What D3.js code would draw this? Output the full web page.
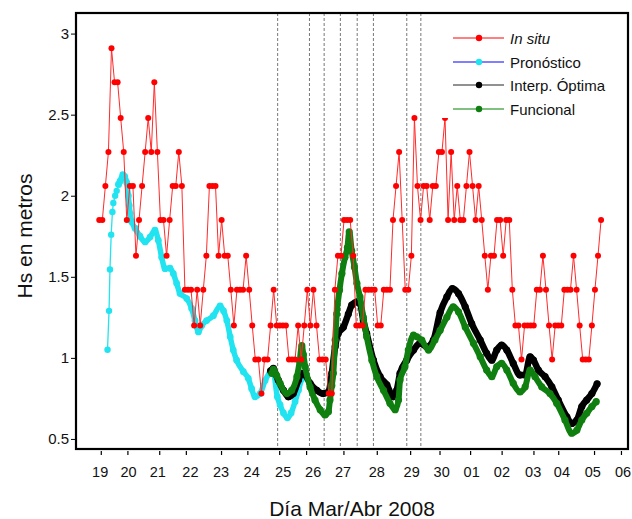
<!DOCTYPE html>
<html><head><meta charset="utf-8">
<script src="https://cdn.jsdelivr.net/npm/d3@7"></script>
<style>
body{margin:0;background:#fff}
svg{display:block}
text{font-family:"Liberation Sans",Arial,Helvetica,sans-serif}
</style>
</head><body>
<svg id="chart" width="632" height="519"></svg>
<script>
// ---------- DATA ----------
// In situ: Hs every 0.1 axis-day starting at 18.95
const inSituStart = 18.95, inSituStep = 0.1;
const inSituHs = [
 1.85,1.85,2.06,2.27,2.91,2.7,2.7,2.48,2.27,1.85,
 2.06,2.06,1.63,1.85,2.06,2.27,2.48,2.27,2.7,2.27,
 1.85,1.85,1.63,1.85,2.06,2.06,2.27,2.06,1.42,1.42,
 1.42,1.2,1.42,1.2,1.42,1.63,2.06,2.06,2.06,1.63,
 1.85,1.63,1.63,1.42,1.2,1.42,1.42,1.42,1.63,1.42,
 1.2,0.99,0.99,0.78,0.99,0.99,1.2,1.42,1.2,1.2,
 1.2,1.2,0.99,0.99,0.99,1.2,0.99,1.2,1.42,1.2,
 1.42,1.2,0.99,0.99,0.99,0.78,0.78,1.42,1.63,1.63,
 1.85,1.85,1.85,1.63,1.2,1.2,1.2,1.42,1.42,1.42,
 1.42,1.2,1.2,1.42,1.42,1.42,1.85,2.06,2.27,1.85,
 1.42,1.42,1.63,2.48,2.06,1.85,2.06,2.06,1.85,2.06,
 2.06,2.27,2.27,2.48,1.85,2.27,1.85,2.06,1.85,1.85,
 2.06,2.27,2.06,1.85,2.06,1.85,1.63,1.42,1.63,1.63,
 1.85,1.85,1.63,1.85,1.85,1.42,1.2,1.2,0.99,1.2,
 1.2,1.2,1.2,1.42,1.42,1.63,1.42,1.2,0.99,1.2,
 1.2,1.2,1.42,1.42,1.42,1.63,1.42,1.2,0.99,0.99,
 0.99,1.2,1.42,1.63,1.85
];

const pronDay = [19.22,19.27,19.30,19.34,19.38,19.41,19.47,19.52,19.58,19.63,19.72,19.78,19.85,19.90,19.93,19.96,20.01,20.12,20.28,20.45,20.61,20.77,20.88,20.99,21.10,21.26,21.37,21.48,21.59,21.81,21.97,22.08,22.19,22.30,22.46,22.68,22.90,23.01,23.12,23.23,23.33,23.44,23.66,23.82,23.93,24.04,24.21,24.37,24.53,24.63,24.77,24.86,24.97,25.10,25.22,25.35,25.46,25.57,25.64];
const pronHs  = [1.05,1.29,1.545,1.76,1.90,1.955,2.0,2.03,2.07,2.09,2.13,2.12,2.08,2.0,1.94,1.89,1.84,1.80,1.75,1.715,1.745,1.787,1.725,1.62,1.55,1.553,1.52,1.46,1.397,1.366,1.305,1.23,1.16,1.20,1.23,1.26,1.32,1.29,1.23,1.13,1.048,0.986,0.915,0.874,0.81,0.76,0.78,0.86,0.91,0.92,0.76,0.71,0.66,0.63,0.66,0.73,0.80,0.87,0.89];

const interpDay = [24.55,24.64,24.71,24.80,24.97,25.13,25.29,25.46,25.57,25.68,25.84,26.06,26.27,26.44,26.55,26.66,26.76,26.93,27.09,27.20,27.37,27.47,27.58,27.69,27.91,28.13,28.35,28.56,28.67,28.78,29.00,29.22,29.43,29.65,29.87,30.09,30.31,30.49,30.69,30.91,31.12,31.40,31.61,31.78,31.94,32.10,32.27,32.48,32.70,32.87,33.03,33.14,33.30,33.52,33.74,33.95,34.23,34.39,34.56,34.72,34.88,35.05,35.22];
const interpHs  = [0.92,0.935,0.90,0.863,0.80,0.76,0.78,0.863,0.905,0.894,0.843,0.80,0.78,0.79,0.905,1.07,1.15,1.19,1.27,1.325,1.345,1.335,1.23,1.15,0.986,0.884,0.833,0.76,0.80,0.905,0.986,1.048,1.09,1.068,1.11,1.28,1.376,1.428,1.397,1.315,1.212,1.11,1.028,0.986,1.048,1.079,1.048,0.966,0.894,0.894,1.007,0.986,0.925,0.884,0.822,0.74,0.637,0.596,0.617,0.70,0.74,0.78,0.84];

const funcDay = [24.59,24.64,24.75,24.86,25.08,25.24,25.41,25.50,25.57,25.62,25.68,25.84,26.00,26.17,26.33,26.44,26.49,26.55,26.60,26.66,26.71,26.80,26.88,26.98,27.06,27.12,27.20,27.29,27.37,27.47,27.58,27.69,27.86,28.02,28.24,28.45,28.62,28.73,28.78,28.94,29.05,29.22,29.33,29.49,29.71,29.92,30.09,30.31,30.52,30.69,30.91,31.18,31.40,31.61,31.78,31.94,32.10,32.27,32.48,32.70,32.87,33.03,33.19,33.41,33.68,33.90,34.17,34.39,34.56,34.72,34.88,35.05,35.19];
const funcHs  = [0.905,0.93,0.89,0.843,0.78,0.80,0.884,0.98,1.075,1.02,0.945,0.82,0.74,0.68,0.648,0.668,0.74,0.83,0.905,1.11,1.27,1.417,1.52,1.62,1.68,1.777,1.66,1.56,1.46,1.376,1.25,1.13,0.986,0.884,0.80,0.72,0.68,0.74,0.863,0.945,1.048,1.14,1.13,1.11,1.048,1.11,1.17,1.25,1.315,1.284,1.19,1.09,1.007,0.925,0.884,0.945,0.966,0.925,0.843,0.79,0.822,0.925,0.884,0.822,0.78,0.72,0.617,0.535,0.555,0.617,0.658,0.70,0.73];

const dayTicks    = [19.0,19.87,20.91,21.78,22.93,23.79,24.83,25.71,26.93,28.02,29.11,30.07,31.07,32.10,33.14,33.95,35.12,36.00];
const dayLabels   = ["19","20","21","22","23","24","25","26","27","28","29","30","01","02","03","04","05","06"];
const dayLabelPos = [18.98,19.91,20.86,21.93,22.93,23.93,24.96,25.94,26.92,28.02,29.16,30.14,31.12,32.11,33.13,34.07,35.08,36.07];
const eventDays   = [24.78,25.82,26.30,26.83,27.38,27.91,29.00,29.46];
const hsTicks     = [0.5,1,1.5,2,2.5,3];

const seriesNames = ["In situ","Pronóstico","Interp. Óptima","Funcional"];

// ---------- LAYOUT ----------
const W = 632, H = 519;
const plot = {left:76, right:628, top:13, bottom:449};
const svg = d3.select("#chart");
svg.append("rect").attr("width",W).attr("height",H).attr("fill","#fff");

const x = d3.scaleLinear().domain([18.19,36.23]).range([plot.left,plot.right]);
const y = d3.scaleLinear().domain([0.438,3.127]).range([plot.bottom,plot.top]);

svg.append("clipPath").attr("id","clip").append("rect")
  .attr("x",plot.left).attr("y",plot.top).attr("width",plot.right-plot.left).attr("height",plot.bottom-plot.top);

const g = svg.append("g").attr("clip-path","url(#clip)");

// dashed event lines
g.selectAll("line.ev").data(eventDays).join("line")
  .attr("x1",d=>x(d)).attr("x2",d=>x(d)).attr("y1",plot.top).attr("y2",plot.bottom)
  .attr("stroke","#777").attr("stroke-width",1).attr("stroke-dasharray","3,2");

const inSitu = inSituHs.map((v,i)=>({d:inSituStart+i*inSituStep, v}));
const pron = pronDay.map((d,i)=>({d, v:pronHs[i]}));
const interp = interpDay.map((d,i)=>({d, v:interpHs[i]}));
const func = funcDay.map((d,i)=>({d, v:funcHs[i]}));

const line = d3.line().x(p=>x(p.d)).y(p=>y(p.v));
const smooth = d3.line().x(p=>x(p.d)).y(p=>y(p.v)).curve(d3.curveMonotoneX);

function drawSeries(data, color, lineColor, lw, r, gen){
  g.append("path").datum(data).attr("d",gen).attr("fill","none")
   .attr("stroke",lineColor).attr("stroke-width",lw).attr("stroke-linejoin","round").attr("stroke-linecap","round");
  g.append("g").selectAll("circle").data(data).join("circle")
   .attr("cx",p=>x(p.d)).attr("cy",p=>y(p.v)).attr("r",r).attr("fill",color);
}

const cyan = "#22e3f0", green = "#0f7f0f", red = "#ff0000";
drawSeries(pron.slice(0,9), cyan, cyan, 1.3, 3.2, line);
drawSeries(pron.slice(8), cyan, cyan, 5.5, 3.4, smooth);
drawSeries(interp, "#000", "#000", 6.5, 3.6, smooth);
drawSeries(func, green, green, 6, 3.6, smooth);
drawSeries(inSitu, red, "#ff2a2a", 1, 3, line);

// legend background
const leg = svg.append("g");
leg.append("rect").attr("x",441).attr("y",plot.top+1).attr("width",plot.right-442).attr("height",104).attr("fill","#fff");
const legY = [38,62,85,109];
const legLine = [red,"#0000ff","#222","#80c080"];
const legMark = [red,cyan,"#000",green];
const legLW = [1,1,1,2];
seriesNames.forEach((n,i)=>{
  leg.append("line").attr("x1",453).attr("x2",504).attr("y1",legY[i]).attr("y2",legY[i])
    .attr("stroke",legLine[i]).attr("stroke-width",legLW[i]);
  leg.append("circle").attr("cx",479).attr("cy",legY[i]).attr("r",3.2).attr("fill",legMark[i]);
  leg.append("text").attr("x",510).attr("y",legY[i]+5.5).attr("font-size",15).attr("fill","#111")
    .attr("font-style",i===0?"italic":"normal").text(n);
});

// box
svg.append("rect").attr("x",plot.left).attr("y",plot.top).attr("width",plot.right-plot.left).attr("height",plot.bottom-plot.top)
  .attr("fill","none").attr("stroke","#000").attr("stroke-width",2.2);

// y axis
const ya = svg.append("g").attr("transform",`translate(${plot.left},0)`)
  .call(d3.axisLeft(y).tickValues(hsTicks).tickSize(5).tickSizeOuter(0).tickPadding(2).tickFormat(d3.format("")));
ya.select(".domain").remove();
ya.selectAll("text").attr("font-size",15).attr("fill","#111").attr("font-family","Liberation Sans, Arial, sans-serif");
ya.selectAll("line").attr("stroke","#000");

// x axis ticks
const xa = svg.append("g").attr("transform",`translate(0,${plot.bottom+2})`)
  .call(d3.axisBottom(x).tickValues(dayTicks).tickSize(4).tickSizeOuter(0).tickFormat(""));
xa.select(".domain").remove();
xa.selectAll("line").attr("stroke","#000").attr("stroke-width",1.2);
// x labels
svg.append("g").selectAll("text").data(dayLabels).join("text")
  .attr("x",(d,i)=>x(dayLabelPos[i])).attr("y",477).attr("text-anchor","middle")
  .attr("font-size",14.5).attr("fill","#111").text(d=>d);

// titles
svg.append("text").attr("x",352).attr("y",516).attr("text-anchor","middle").attr("font-size",21).attr("fill","#111").text("Día Mar/Abr 2008");
svg.append("text").attr("transform","translate(32,236) rotate(-90)").attr("text-anchor","middle").attr("font-size",21).attr("fill","#111").text("Hs en metros");
</script>
</body></html>
